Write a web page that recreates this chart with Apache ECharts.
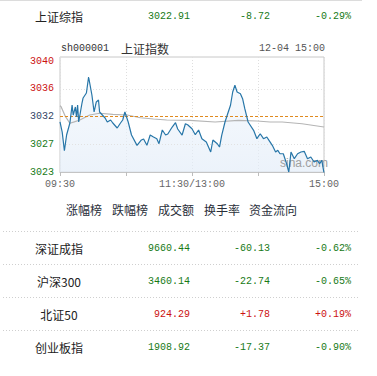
<!DOCTYPE html>
<html>
<head>
<meta charset="utf-8">
<script src="https://cdn.jsdelivr.net/npm/echarts@6/dist/echarts.min.js"></script>
<style>
html,body{margin:0;padding:0;background:#fff;}
#main{width:377px;height:376px;}
</style>
</head>
<body>
<div id="main"></div>
<script>
// ---- data ----
var mainName = '上证综指';
var mainPrice = 3022.91;
var mainChange = -8.72;
var mainPct = -0.29;
var prevClose = 3031.63;

var chartCode = 'sh000001';
var chartTitle = '上证指数';
var chartStamp = '12-04 15:00';
var tabs = ['涨幅榜', '跌幅榜', '成交额', '换手率', '资金流向'];

var rowNames = ['深证成指', '沪深300', '北证50', '创业板指'];
var rowPrices = [9660.44, 3460.14, 924.29, 1908.92];
var rowChanges = [-60.13, -22.74, 1.78, -17.37];
var rowPcts = [-0.62, -0.65, 0.19, -0.90];

// minutes after 09:30 (trading minutes, 0..240)
var priceMinutes = [0,2,4,6,9,11,12,14,15,16,17,20,21,24,25,26,29,31,33,35,36,41,43,46,48,52,55,57,59,62,65,70,74,76,79,82,85,88,90,93,96,98,102,105,107,111,114,116,120,123,126,129,133,137,139,143,145,147,150,152,155,157,159,161,164,166,168,171,176,179,182,185,188,190,193,196,198,200,203,206,208,210,213,216,219,222,225,228,231,234,236,238,240];
var priceValues = [3030.78,3029.2,3026.33,3028.76,3030.62,3033.41,3031.86,3033.10,3031.55,3033.41,3030.78,3033.72,3034.50,3035.27,3036.51,3037.75,3034.96,3032.33,3033.88,3034.19,3032.33,3031.40,3030.78,3031.09,3030.62,3029.85,3030.62,3031.09,3032.33,3030.78,3028.76,3027.16,3027.99,3028.14,3027.16,3028.76,3028.45,3028.19,3027.41,3029.54,3028.76,3028.92,3030.00,3030.67,3029.69,3028.76,3030.51,3030.36,3029.74,3028.81,3029.54,3028.19,3027.68,3026.13,3027.99,3027.41,3026.90,3028.72,3030.78,3031.82,3033.37,3035.43,3036.47,3035.43,3035.16,3034.39,3032.84,3030.78,3029.49,3028.19,3028.96,3028.19,3028.45,3027.94,3027.16,3026.13,3026.39,3025.86,3025.86,3024.31,3023.03,3026.13,3025.09,3025.86,3026.13,3026.23,3025.09,3025.35,3024.58,3024.84,3024.31,3024.84,3022.91];

var avgMinutes = [0,1,5,9,13,18,27,36,48,61,73,85,97,118,141,162,179,191,202,220,240];
var avgValues = [3033.3,3033.15,3031.6,3030.58,3030.8,3031.09,3031.86,3032.13,3031.97,3031.86,3031.44,3031.24,3031.09,3031.04,3030.78,3031.04,3030.93,3030.78,3030.78,3030.51,3030.0];

var xTickLabels = {0: '09:30', 120: '11:30/13:00', 240: '15:00'};
var yStep = 4.3;

// ---- build ----
var GREEN = '#177a17', RED = '#cc1111';
var CJK = '"Noto Sans CJK SC", "Noto Sans", sans-serif';
var MONO = '"Liberation Mono", "DejaVu Sans Mono", monospace';

function colorOf(v) { return v > 0 ? RED : (v < 0 ? GREEN : '#334466'); }
function signed(v) { return (v > 0 ? '+' : '') + v.toFixed(2); }

var yMin = +(prevClose - 2 * yStep).toFixed(2);
var yMax = +(prevClose + 2 * yStep + 0.62).toFixed(2);

var priceData = priceMinutes.map(function (m, i) { return [m, priceValues[i]]; });
var avgData = avgMinutes.map(function (m, i) { return [m, avgValues[i]]; });

var graphics = [];
// top line
graphics.push({type: 'line', shape: {x1: 0, y1: 0.5, x2: 362, y2: 0.5}, style: {stroke: '#dcdcdc', lineWidth: 1}, silent: true});
// header row
graphics.push({type: 'text', x: 35, y: 16, style: {text: mainName, fill: '#222', font: '12px ' + CJK, verticalAlign: 'middle'}});
graphics.push({type: 'text', x: 190, y: 16, style: {text: mainPrice.toFixed(2), fill: colorOf(mainChange), font: '10px ' + MONO, align: 'right', verticalAlign: 'middle'}});
graphics.push({type: 'text', x: 270, y: 16, style: {text: signed(mainChange), fill: colorOf(mainChange), font: '10px ' + MONO, align: 'right', verticalAlign: 'middle'}});
graphics.push({type: 'text', x: 351, y: 16, style: {text: signed(mainPct) + '%', fill: colorOf(mainChange), font: '10px ' + MONO, align: 'right', verticalAlign: 'middle'}});
// chart title row
graphics.push({type: 'text', x: 61, y: 48, style: {text: chartCode, fill: '#333', font: '10px ' + MONO, verticalAlign: 'middle'}});
graphics.push({type: 'text', x: 121, y: 48, style: {text: chartTitle, fill: '#333', font: '12px ' + CJK, verticalAlign: 'middle'}});
graphics.push({type: 'text', x: 325, y: 48, style: {text: chartStamp, fill: '#555', font: '10px ' + MONO, align: 'right', verticalAlign: 'middle'}});
// watermark (between area fill and price line)
graphics.push({type: 'text', x: 280, y: 163, z: 2, style: {text: 'sina.com', fill: '#a0a0a0', font: '12px "Liberation Sans", Arial, sans-serif', verticalAlign: 'middle'}});
// tabs
var tabX = [66, 112, 158, 204, 249];
tabs.forEach(function (t, i) {
  graphics.push({type: 'text', x: tabX[i], y: 209, style: {text: t, fill: '#2a2f3a', font: '12px ' + CJK, verticalAlign: 'middle'}});
});
// separators
[231, 264, 297, 330].forEach(function (y) {
  graphics.push({type: 'line', shape: {x1: 3, y1: y + 0.5, x2: 360, y2: y + 0.5}, style: {stroke: '#cfcfcf', lineWidth: 1, lineDash: [1, 2]}, silent: true});
});
// rows
rowNames.forEach(function (n, i) {
  var y = 248 + i * 33;
  var c = colorOf(rowChanges[i]);
  graphics.push({type: 'text', x: 59, y: y, style: {text: n, fill: '#222', font: '12px ' + CJK, align: 'center', verticalAlign: 'middle'}});
  graphics.push({type: 'text', x: 190, y: y, style: {text: rowPrices[i].toFixed(2), fill: c, font: '10px ' + MONO, align: 'right', verticalAlign: 'middle'}});
  graphics.push({type: 'text', x: 270, y: y, style: {text: signed(rowChanges[i]), fill: c, font: '10px ' + MONO, align: 'right', verticalAlign: 'middle'}});
  graphics.push({type: 'text', x: 351, y: y, style: {text: signed(rowPcts[i]) + '%', fill: c, font: '10px ' + MONO, align: 'right', verticalAlign: 'middle'}});
});

var chart = echarts.init(document.getElementById('main'), null, {renderer: 'svg'});
chart.setOption({
  animation: false,
  backgroundColor: '#fff',
  grid: {left: 60, right: 53, top: 57, bottom: 204, show: true, borderColor: '#c8c8c8', borderWidth: 1},
  xAxis: {
    type: 'value', min: 0, max: 240, interval: 60,
    axisLine: {show: true, lineStyle: {color: '#c4c4c4'}},
    axisTick: {show: true, length: 4, lineStyle: {color: '#bdbdbd'}},
    axisLabel: {
      margin: 7, color: '#666', fontFamily: MONO, fontSize: 10,
      showMinLabel: true, showMaxLabel: true,
      formatter: function (v) { return xTickLabels[v] || ''; }
    },
    splitLine: {show: true, lineStyle: {color: '#dedede', type: [1, 2]}}
  },
  yAxis: {
    type: 'value', min: yMin, max: yMax, interval: yStep,
    axisLine: {show: false}, axisTick: {show: false},
    splitLine: {show: false},
    axisLabel: {
      margin: 6, fontFamily: MONO, fontSize: 10, padding: [0, 0, 5, 0],
      showMaxLabel: false,
      formatter: function (v) { return v > yMax - 0.3 ? '' : String(Math.round(v)); },
      color: function (v) { return v > prevClose + 0.1 ? RED : (v < prevClose - 0.1 ? GREEN : '#334466'); }
    }
  },
  graphic: graphics,
  series: [
    {
      type: 'line', data: priceData, symbol: 'none', z: 1,
      lineStyle: {width: 0, opacity: 0},
      areaStyle: {
        origin: 'start',
        color: new echarts.graphic.LinearGradient(0, 0, 0, 1, [
          {offset: 0, color: 'rgba(240,246,252,0.85)'},
          {offset: 1, color: 'rgba(226,236,248,0.95)'}
        ])
      },
      markLine: {
        silent: true, symbol: 'none', label: {show: false},
        data: [
          {yAxis: prevClose - yStep, lineStyle: {color: '#e2e2e2', type: [1, 2], width: 1}},
          {yAxis: prevClose + yStep, lineStyle: {color: '#e2e2e2', type: [1, 2], width: 1}}
        ]
      }
    },
    {
      type: 'line', data: avgData, symbol: 'none', z: 3,
      lineStyle: {color: '#b5b5b5', width: 1.2},
      markLine: {
        silent: true, symbol: 'none', label: {show: false}, z: 4,
        data: [{yAxis: prevClose, lineStyle: {color: '#e08a1e', type: [3, 2], width: 1.2}}]
      }
    },
    {
      type: 'line', data: priceData, symbol: 'none', z: 5,
      lineStyle: {color: '#2776a8', width: 1.2}
    }
  ]
});
</script>
</body>
</html>
